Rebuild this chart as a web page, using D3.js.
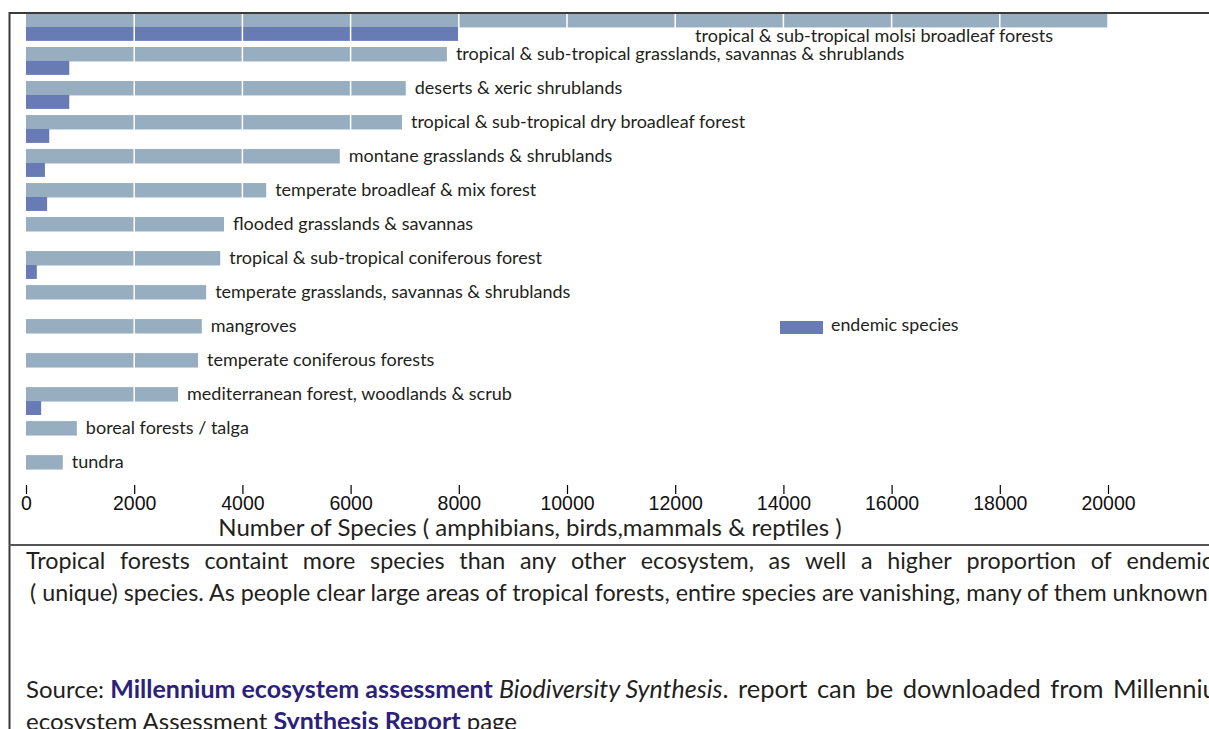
<!DOCTYPE html>
<html><head><meta charset="utf-8">
<script src="https://cdn.jsdelivr.net/npm/d3@7"></script>
<style>
html,body{margin:0;padding:0;background:#fff;overflow:hidden}
svg{display:block}
</style></head>
<body>
<svg id="c" width="1209" height="729"></svg>
<script>
const categories = [
  "tropical & sub-tropical molsi broadleaf forests",
  "tropical & sub-tropical grasslands, savannas & shrublands",
  "deserts & xeric shrublands",
  "tropical & sub-tropical dry broadleaf forest",
  "montane grasslands & shrublands",
  "temperate broadleaf & mix forest",
  "flooded grasslands & savannas",
  "tropical & sub-tropical coniferous forest",
  "temperate grasslands, savannas & shrublands",
  "mangroves",
  "temperate coniferous forests",
  "mediterranean forest, woodlands & scrub",
  "boreal forests / talga",
  "tundra"
];
const totalSpecies   = [20000, 7780, 7020, 6950, 5800, 4440, 3660, 3590, 3330, 3250, 3180, 2810, 940, 680];
const endemicSpecies = [8000, 800, 800, 430, 350, 390, 0, 200, 0, 0, 0, 280, 0, 0];
const tickValues = [0, 2000, 4000, 6000, 8000, 10000, 12000, 14000, 16000, 18000, 20000];
const tickLabels = ["0","2000","4000","6000","8000","10000","12000","14000","16000","18000","20000"];
const legendLabel = "endemic species";
const axisTitle = "Number of Species ( amphibians, birds,mammals & reptiles )";
const para1 = "Tropical forests containt more species than any other ecosystem, as well a higher proportion of endemic";
const para2 = " ( unique) species. As people clear large areas of tropical forests, entire species are vanishing, many of them unknown";

const svg = d3.select("#c");
const FONT = "Lato, 'Open Sans', sans-serif";
const TXT = "#231f20";
const C_TOTAL = "#97aec1", C_END = "#687bb4";

const x = d3.scaleLinear().domain([0, 20000]).range([26, 1108]);
const y = d3.scaleBand().domain(categories).range([13, 483]).paddingInner(0.18).paddingOuter(0);
const sub = d3.scaleBand().domain(["total","endemic"]).range([0, y.bandwidth()]);

const rows = categories.map((c,i)=>({c, total: totalSpecies[i], endemic: endemicSpecies[i], i}));

const g = svg.append("g");
g.selectAll("rect.t").data(rows).join("rect").attr("class","t")
  .attr("x", x(0)).attr("y", d=>y(d.c)+sub("total"))
  .attr("width", d=>x(d.total)-x(0)).attr("height", sub.bandwidth()+0.5)
  .attr("fill", C_TOTAL);
g.selectAll("rect.e").data(rows.filter(d=>d.endemic>0)).join("rect").attr("class","e")
  .attr("x", x(0)).attr("y", d=>y(d.c)+sub("endemic"))
  .attr("width", d=>x(d.endemic)-x(0)).attr("height", sub.bandwidth())
  .attr("fill", C_END);
g.selectAll("line.grid").data(tickValues.filter(v=>v>0)).join("line").attr("class","grid")
  .attr("x1", d=>x(d)).attr("x2", d=>x(d)).attr("y1", 13).attr("y2", 478)
  .attr("stroke","#fff").attr("stroke-width",1.5);

g.selectAll("text.lab").data(rows).join("text").attr("class","lab")
  .attr("x", d=> d.i===0 ? x(d.total)-55 : x(d.total)+9)
  .attr("y", d=> d.i===0 ? y(d.c)+sub("endemic")+sub.bandwidth()/2+2 : y(d.c)+sub("total")+sub.bandwidth()/2)
  .attr("dy","0.35em")
  .attr("text-anchor", d=> d.i===0 ? "end" : "start")
  .attr("font-family", FONT).attr("font-size", 18).attr("fill", TXT)
  .text(d=>d.c);

const axis = d3.axisBottom(x).tickValues(tickValues)
  .tickFormat((d,i)=>tickLabels[i]).tickSize(9).tickPadding(2);
const ax = svg.append("g").attr("transform","translate(0,485)").call(axis);
ax.select(".domain").remove();
ax.selectAll(".tick line").attr("stroke","#000").attr("stroke-width",1.2);
ax.selectAll(".tick text").attr("font-family","'Liberation Sans', Arial, sans-serif")
  .attr("font-size",19.5).attr("fill","#111");

svg.append("text").attr("x", 530).attr("y", 536).attr("text-anchor","middle")
  .attr("font-family", FONT).attr("font-size", 24).attr("fill", TXT).text(axisTitle);

svg.append("rect").attr("x",780).attr("y",321).attr("width",43).attr("height",13).attr("fill",C_END);
svg.append("text").attr("x",831).attr("y",325).attr("dy","0.35em")
  .attr("font-family",FONT).attr("font-size",17.8).attr("fill",TXT).text(legendLabel);

svg.append("line").attr("x1",9).attr("x2",1209).attr("y1",13).attr("y2",13).attr("stroke","#3a3a3a").attr("stroke-width",2);
svg.append("line").attr("x1",9.5).attr("x2",9.5).attr("y1",12).attr("y2",729).attr("stroke","#3a3a3a").attr("stroke-width",2);
svg.append("line").attr("x1",9).attr("x2",1209).attr("y1",545).attr("y2",545).attr("stroke","#555").attr("stroke-width",2);

const PF = 23.3;
const words = para1.split(" ");
const wg = svg.append("g");
const wt = wg.selectAll("text").data(words).join("text")
  .attr("y",569).attr("font-family",FONT).attr("font-size",PF).attr("fill",TXT).text(d=>d);
const widths = wt.nodes().map(n=>n.getComputedTextLength());
const sumW = d3.sum(widths);
const gap = (1213-26-sumW)/(words.length-1);
let cx = 26;
wt.attr("x",(d,i)=>{const v=cx; cx += widths[i]+gap; return v;});

svg.append("text").attr("x",24).attr("y",601).attr("xml:space","preserve")
  .attr("font-family",FONT).attr("font-size",PF).attr("fill",TXT).text(para2);

const NAVY = "#2b2179";
const SF = 24, BF = 25;
const s1 = svg.append("text").attr("x",26).attr("y",698).attr("font-family",FONT).attr("font-size",SF).attr("fill",TXT).attr("xml:space","preserve");
s1.append("tspan").text("Source: ");
s1.append("tspan").attr("font-weight","bold").attr("font-size",BF).attr("fill",NAVY).text("Millennium ecosystem assessment");
s1.append("tspan").text(" ");
s1.append("tspan").attr("font-style","italic").attr("font-size",BF).text("Biodiversity Synthesis");
s1.append("tspan").attr("font-size",25.5).attr("word-spacing",3).text(". report can be downloaded from Millennium");
const s2 = svg.append("text").attr("x",26).attr("y",730).attr("font-family",FONT).attr("font-size",SF).attr("fill",TXT).attr("xml:space","preserve");
s2.append("tspan").text("ecosystem Assessment ");
s2.append("tspan").attr("font-weight","bold").attr("font-size",BF).attr("fill",NAVY).text("Synthesis Report");
s2.append("tspan").text(" page");
</script>
</body></html>
